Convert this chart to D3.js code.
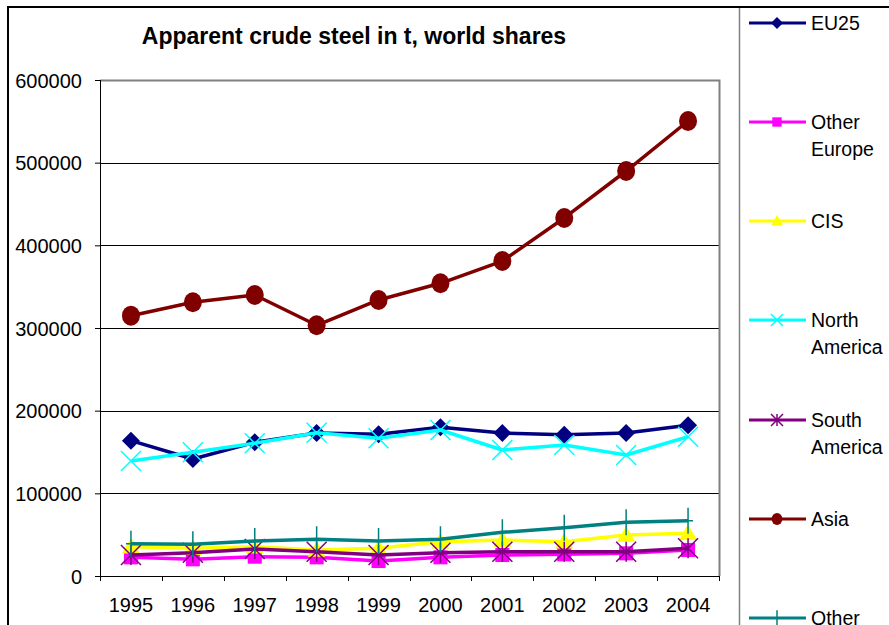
<!DOCTYPE html>
<html>
<head>
<meta charset="utf-8">
<script src="https://cdn.jsdelivr.net/npm/d3@7/dist/d3.min.js"></script>
<style>
  body { margin: 0; background: #fff; }
  text { font-family: Arial, "Liberation Sans", sans-serif; fill: #000; }
</style>
</head>
<body>
<div id="chart"></div>
<script>

var svgWidth = 889;
var svgHeight = 625;

// chart data
var years = ["1995", "1996", "1997", "1998", "1999", "2000", "2001", "2002", "2003", "2004"];
var yTicks = [0, 100000, 200000, 300000, 400000, 500000, 600000];

var eu25 = [163700, 141500, 161700, 173000, 171400, 179900, 173000, 170900, 173000, 182300];
var otherEurope = [22600, 20200, 23400, 22600, 18100, 22600, 25400, 26200, 27400, 31500];
var cis = [35500, 33500, 35500, 31500, 33500, 41500, 43500, 41500, 49600, 51600];
var northAmerica = [139100, 149600, 160500, 173300, 166600, 176600, 152400, 158500, 146400, 168500];
var southAmerica = [25400, 28200, 32700, 29400, 25400, 28200, 29400, 29400, 29400, 33500];
var asia = [314900, 331100, 339900, 303300, 333900, 354100, 381000, 433100, 489900, 550400];
var other = [39100, 38300, 42300, 44400, 42300, 44400, 52800, 58500, 64900, 66900];

var seriesNames = [["EU25"], ["Other", "Europe"], ["CIS"], ["North", "America"], ["South", "America"], ["Asia"], ["Other"]];
var seriesValues = [eu25, otherEurope, cis, northAmerica, southAmerica, asia, other];
var seriesColors = ["#000080", "#ff00ff", "#ffff00", "#00ffff", "#800080", "#800000", "#008080"];
var seriesMarkers = ["diamond", "square", "triangle", "x", "star", "circle", "plus"];

// plot area
var margin = { top: 80, left: 100 };
var width = 619;
var height = 496;

var svg = d3.select("#chart")
	.append("svg")
	.attr("width", svgWidth)
	.attr("height", svgHeight);

// outer chart frame
svg.append("line")
	.attr("x1", 8).attr("x2", 8).attr("y1", 6).attr("y2", svgHeight)
	.attr("stroke", "#000").attr("stroke-width", 2);
svg.append("line")
	.attr("x1", 7).attr("x2", svgWidth).attr("y1", 7).attr("y2", 7)
	.attr("stroke", "#000").attr("stroke-width", 2);

// legend frame
svg.append("line")
	.attr("x1", 739.5).attr("x2", 739.5).attr("y1", 8).attr("y2", svgHeight)
	.attr("stroke", "#808080").attr("stroke-width", 1.5);

// title
svg.append("text")
	.attr("x", 354)
	.attr("y", 44)
	.attr("text-anchor", "middle")
	.style("font-size", "23px")
	.style("font-weight", "bold")
	.text("Apparent crude steel in t, world shares");

var chartGroup = svg.append("g")
	.attr("transform", `translate(${margin.left}, ${margin.top})`);

var xScale = d3.scaleBand()
	.domain(years)
	.range([0, width]);

var yScale = d3.scaleLinear()
	.domain([0, 600000])
	.range([height, 0]);

// gridlines
chartGroup.selectAll(".grid")
	.data(yTicks.slice(1, 6))
	.enter()
	.append("line")
	.attr("x1", 0).attr("x2", width)
	.attr("y1", d => Math.round(yScale(d)) + 0.5)
	.attr("y2", d => Math.round(yScale(d)) + 0.5)
	.attr("stroke", "#000").attr("stroke-width", 1);

// plot border (top and right, gray)
chartGroup.append("path")
	.attr("d", `M0,0.5H${width + 0.5}V${height}`)
	.attr("fill", "none")
	.attr("stroke", "#808080")
	.attr("stroke-width", 2);

// y axis
var leftAxis = d3.axisLeft(yScale)
	.tickValues(yTicks)
	.tickSize(5)
	.tickPadding(13)
	.tickFormat(d3.format("d"));

var yAxis = chartGroup.append("g").call(leftAxis);
yAxis.select(".domain").remove();
yAxis.selectAll("line").attr("stroke", "#000");
yAxis.selectAll("text")
	.style("font-size", "20px")
	.attr("font-family", null)
	.attr("dy", "0.36em");

chartGroup.append("line")
	.attr("x1", 0.5).attr("x2", 0.5).attr("y1", 0).attr("y2", height)
	.attr("stroke", "#000");

// x axis
var bottomAxis = d3.axisBottom(xScale)
	.tickSize(0)
	.tickPadding(22);

var xAxis = chartGroup.append("g")
	.attr("transform", `translate(0, ${height})`)
	.call(bottomAxis);
xAxis.select(".domain").remove();
xAxis.selectAll("text")
	.style("font-size", "20px")
	.attr("font-family", null);

chartGroup.append("line")
	.attr("x1", 0).attr("x2", width + 1).attr("y1", height + 0.5).attr("y2", height + 0.5)
	.attr("stroke", "#000");

// x tick marks at category boundaries
chartGroup.selectAll(".xtick")
	.data(years.concat(["end"]))
	.enter()
	.append("line")
	.attr("x1", (d, i) => Math.round(i * xScale.bandwidth()) + 0.5)
	.attr("x2", (d, i) => Math.round(i * xScale.bandwidth()) + 0.5)
	.attr("y1", height).attr("y2", height + 5)
	.attr("stroke", "#000");

// marker drawing
function drawMarker(g, type, color, s) {
	if (type === "diamond") {
		g.append("path")
			.attr("d", `M0,${-s}L${s},0L0,${s}L${-s},0Z`)
			.attr("fill", color);
	} else if (type === "square") {
		g.append("rect")
			.attr("x", -s * 0.78).attr("y", -s * 0.78)
			.attr("width", s * 1.56).attr("height", s * 1.56)
			.attr("fill", color);
	} else if (type === "triangle") {
		g.append("path")
			.attr("d", `M0,${-s}L${s},${s * 0.75}L${-s},${s * 0.75}Z`)
			.attr("fill", color);
	} else if (type === "x") {
		g.append("path")
			.attr("d", `M${-s},${-s}L${s},${s}M${-s},${s}L${s},${-s}`)
			.attr("stroke", color).attr("stroke-width", 1.5);
	} else if (type === "star") {
		g.append("path")
			.attr("d", `M${-s},${-s}L${s},${s}M${-s},${s}L${s},${-s}M0,${-s}L0,${s}`)
			.attr("stroke", color).attr("stroke-width", 1.5);
	} else if (type === "circle") {
		g.append("ellipse")
			.attr("rx", s * 0.9).attr("ry", s)
			.attr("fill", color);
	} else if (type === "plus") {
		g.append("path")
			.attr("d", `M0,${-s * 1.3}L0,${s * 1.3}M${-s * 0.5},0L${s * 0.5},0`)
			.attr("stroke", color).attr("stroke-width", 1.5);
	}
}

var line = d3.line()
	.x((d, i) => xScale(years[i]) + xScale.bandwidth() / 2)
	.y(d => yScale(d));

var markerSizes = { diamond: 9, square: 9, triangle: 9, x: 10, star: 10, circle: 10, plus: 10 };

seriesValues.forEach(function(values, k) {
	var g = chartGroup.append("g");
	g.append("path")
		.datum(values)
		.attr("d", line)
		.attr("fill", "none")
		.attr("stroke", seriesColors[k])
		.attr("stroke-width", 3.5)
		.attr("stroke-linejoin", "round");

	g.selectAll(".pt")
		.data(values)
		.enter()
		.append("g")
		.attr("transform", (d, i) => `translate(${xScale(years[i]) + xScale.bandwidth() / 2}, ${yScale(d)})`)
		.each(function() {
			drawMarker(d3.select(this), seriesMarkers[k], seriesColors[k], markerSizes[seriesMarkers[k]]);
		});
});

// legend
var legendY = [23, 122, 221, 320, 420, 519, 618];

seriesNames.forEach(function(name, k) {
	var item = svg.append("g")
		.attr("transform", `translate(0, ${legendY[k]})`);
	item.append("line")
		.attr("x1", 749).attr("x2", 806)
		.attr("y1", 0).attr("y2", 0)
		.attr("stroke", seriesColors[k])
		.attr("stroke-width", 3);
	var m = item.append("g").attr("transform", "translate(777, 0)");
	drawMarker(m, seriesMarkers[k], seriesColors[k], 6);
	name.forEach(function(t, j) {
		item.append("text")
			.attr("x", 811)
			.attr("y", j * 27)
			.attr("dy", "0.36em")
			.style("font-size", "19.5px")
			.text(t);
	});
});

</script>
</body>
</html>
